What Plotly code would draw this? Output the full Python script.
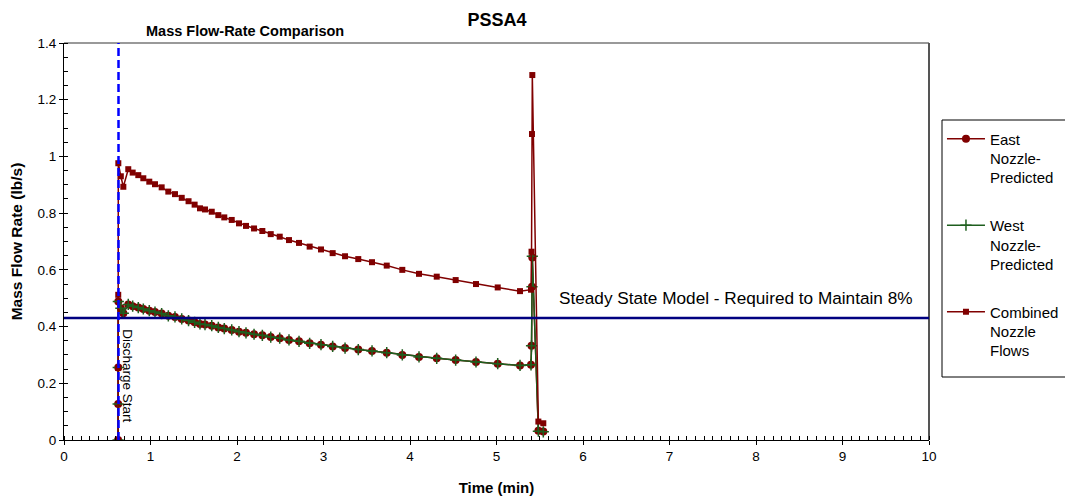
import plotly.graph_objects as go

# ---- data ----
TIME = [0.625, 0.626, 0.627, 0.628, 0.657, 0.686, 0.743, 0.794, 0.859, 0.917,
        0.986, 1.052, 1.129, 1.206, 1.283, 1.361, 1.44, 1.51, 1.572, 1.630,
        1.708, 1.784, 1.853, 1.939, 2.023, 2.104, 2.197, 2.293, 2.390, 2.494,
        2.601, 2.717, 2.840, 2.971, 3.106, 3.249, 3.402, 3.561, 3.731, 3.911,
        4.104, 4.309, 4.528, 4.763, 5.014, 5.272, 5.399, 5.405, 5.410, 5.414,
        5.484, 5.541]

EAST = [0.0, 0.127, 0.256, 0.488, 0.465, 0.447, 0.478, 0.472, 0.467, 0.462,
        0.456, 0.451, 0.446, 0.438, 0.434, 0.427, 0.421, 0.415, 0.409, 0.407,
        0.403, 0.397, 0.393, 0.388, 0.382, 0.378, 0.373, 0.369, 0.363, 0.359,
        0.353, 0.348, 0.341, 0.336, 0.330, 0.324, 0.319, 0.314, 0.308, 0.300,
        0.293, 0.288, 0.282, 0.275, 0.269, 0.263, 0.265, 0.332, 0.540, 0.644,
        0.033, 0.030]

WEST = [0.0, 0.127, 0.256, 0.488, 0.465, 0.447, 0.478, 0.472, 0.467, 0.462,
        0.456, 0.451, 0.446, 0.438, 0.434, 0.427, 0.421, 0.415, 0.409, 0.407,
        0.403, 0.397, 0.393, 0.388, 0.382, 0.378, 0.373, 0.369, 0.363, 0.359,
        0.353, 0.348, 0.341, 0.336, 0.330, 0.324, 0.319, 0.314, 0.308, 0.300,
        0.293, 0.288, 0.282, 0.275, 0.269, 0.263, 0.265, 0.332, 0.540, 0.648,
        0.031, 0.029]

COMBINED = [0.0, 0.254, 0.512, 0.976, 0.930, 0.893, 0.955, 0.943, 0.934, 0.923,
            0.911, 0.902, 0.891, 0.876, 0.867, 0.854, 0.842, 0.830, 0.817, 0.813,
            0.805, 0.793, 0.785, 0.776, 0.764, 0.755, 0.746, 0.737, 0.726, 0.717,
            0.705, 0.695, 0.682, 0.672, 0.659, 0.648, 0.638, 0.627, 0.615, 0.600,
            0.586, 0.576, 0.564, 0.550, 0.538, 0.525, 0.530, 0.664, 1.079, 1.287,
            0.065, 0.059]

STEADY_STATE = 0.43
DISCHARGE_START = 0.63

SERIES_NAMES = ["East<br>Nozzle-<br>Predicted", "West<br>Nozzle-<br>Predicted",
                "Combined<br>Nozzle<br>Flows"]
X_TICKS = [0, 1, 2, 3, 4, 5, 6, 7, 8, 9, 10]
Y_TICKS = [0, 0.2, 0.4, 0.6, 0.8, 1.0, 1.2, 1.4]

FONT = "Arial, Liberation Sans, sans-serif"
RED = "#800000"
GREEN = "#1E5E1E"

fig = go.Figure()

fig.add_trace(go.Scatter(
    x=TIME, y=EAST, name=SERIES_NAMES[0], legendgroup="a", mode="lines+markers",
    line=dict(color=RED, width=1.5),
    marker=dict(symbol="circle", size=8, color=RED)))
fig.add_trace(go.Scatter(
    x=TIME, y=WEST, name=SERIES_NAMES[1], legendgroup="b", mode="lines+markers",
    line=dict(color=GREEN, width=1.5),
    marker=dict(symbol="cross-thin", size=8, color=GREEN,
                line=dict(color=GREEN, width=1.5))))
fig.add_trace(go.Scatter(
    x=TIME, y=COMBINED, name=SERIES_NAMES[2], legendgroup="c", mode="lines+markers",
    line=dict(color=RED, width=1.5),
    marker=dict(symbol="square", size=6, color=RED)))

# steady-state horizontal line and discharge start vertical line
fig.add_shape(type="line", xref="paper", x0=0, x1=1, yref="y",
              y0=STEADY_STATE, y1=STEADY_STATE,
              line=dict(color="#000080", width=2.5))
fig.add_shape(type="line", xref="x", x0=DISCHARGE_START, x1=DISCHARGE_START,
              yref="y", y0=0, y1=1.4,
              line=dict(color="#0000FF", width=2.5, dash="8px,4px"))

# plot frame (top / right)
fig.add_shape(type="line", xref="paper", yref="paper", x0=0, x1=1, y0=1, y1=1,
              line=dict(color="#999999", width=2), layer="below")
fig.add_shape(type="line", xref="paper", yref="paper", x0=1, x1=1, y0=0, y1=1,
              line=dict(color="#555555", width=2), layer="below")

# legend box (extends past the right edge of the figure, as in the reference)
fig.add_shape(type="rect", xref="paper", yref="paper",
              x0=(942 - 64) / 865, x1=(1075 - 64) / 865,
              y0=(440 - 377) / 397, y1=(440 - 120) / 397,
              line=dict(color="black", width=1), fillcolor="rgba(0,0,0,0)",
              layer="below")

fig.add_annotation(x=5.70, y=0.50, xref="x", yref="y", xanchor="left",
                   text="Steady State Model - Required to Maintain 8%",
                   showarrow=False, font=dict(family=FONT, size=17.2, color="black"))
fig.add_annotation(x=0.735, y=0.226, xref="x", yref="y", textangle=90,
                   text="Discharge Start", showarrow=False,
                   font=dict(family=FONT, size=13.5, color="black"))
fig.add_annotation(x=(245 - 64) / 865, y=1 + 12 / 397, xref="paper", yref="paper",
                   xanchor="center", yanchor="middle",
                   text="<b>Mass Flow-Rate Comparison</b>", showarrow=False,
                   font=dict(family=FONT, size=14.5, color="black"))

fig.update_layout(
    width=1065, height=502, autosize=False,
    margin=dict(l=64, r=136, t=43, b=62, autoexpand=False),
    paper_bgcolor="white", plot_bgcolor="white",
    font=dict(family=FONT, size=13.5, color="black"),
    title=dict(text="<b>PSSA4</b>", x=497 / 1065, xanchor="center",
               y=1 - 20 / 502, yanchor="middle",
               font=dict(family=FONT, size=18, color="black")),
    legend=dict(x=1.015, y=0.80, xanchor="left", yanchor="top",
                borderwidth=0, bgcolor="rgba(0,0,0,0)",
                valign="top", tracegroupgap=25, itemwidth=38,
                font=dict(family=FONT, size=15, color="black")),
    xaxis=dict(range=[0, 10], tickvals=X_TICKS, showgrid=False, zeroline=False,
               showline=True, linecolor="black", linewidth=1,
               ticks="outside", ticklen=4, tickcolor="black",
               minor=dict(dtick=0.1, ticks="inside", ticklen=4, tickcolor="black"),
               tickfont=dict(family=FONT, size=13.5, color="black"),
               title=dict(text="<b>Time (min)</b>", standoff=19,
                          font=dict(family=FONT, size=15, color="black"))),
    yaxis=dict(range=[0, 1.4], tickvals=Y_TICKS, showgrid=False, zeroline=False,
               showline=True, linecolor="black", linewidth=1,
               ticks="outside", ticklen=4, tickcolor="black",
               minor=dict(dtick=0.05, ticks="inside", ticklen=4, tickcolor="black"),
               tickfont=dict(family=FONT, size=13.5, color="black"),
               title=dict(text="<b>Mass Flow Rate (lb/s)</b>", standoff=11,
                          font=dict(family=FONT, size=15.5, color="black"))),
)

fig.write_html("out.html",
               config={"displayModeBar": False},
               post_script="document.body.style.margin='0';"
                           "document.body.style.overflow='hidden';")
